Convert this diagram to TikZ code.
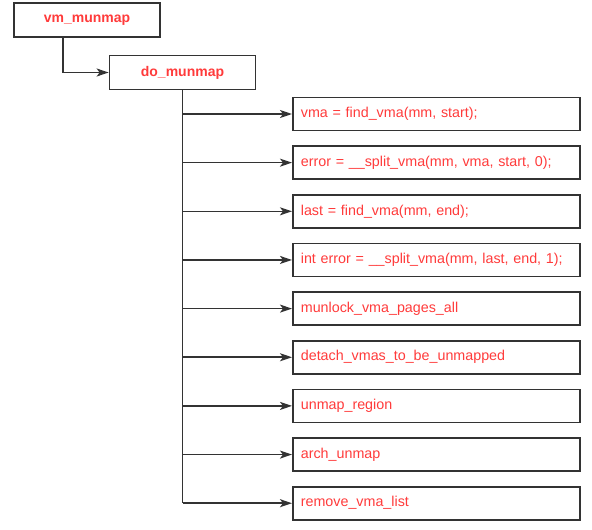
\documentclass[tikz,border=0pt]{standalone}
\usepackage{fontspec}
\setmainfont{Liberation Sans}
\usepackage{xcolor}
\usetikzlibrary{arrows.meta,positioning}

\definecolor{callred}{HTML}{FF3B3B}
\definecolor{edgegray}{HTML}{333333}

\begin{document}
\begin{tikzpicture}[x=1pt, y=-1pt,
  every node/.style={font=\fontsize{14.3}{16}\selectfont},
  fnbox/.style={rectangle, draw=edgegray, line width=1.7pt, fill=white,
               minimum width=146pt, minimum height=34pt, inner sep=0pt,
               text=callred, font=\fontsize{14}{16}\selectfont\bfseries},
  callbox/.style={rectangle, draw=edgegray, line width=1.7pt, fill=white,
               text width=271pt, inner xsep=8pt, inner ysep=0pt,
               minimum height=33pt, align=left, anchor=west, text=callred},
  link/.style={-{Stealth[length=12pt,width=8pt,inset=3pt]}, line width=1.6pt,
               edgegray},
]
\useasboundingbox (0,0) rectangle (592,530);

%% -- callers ------------------------------------------------------------
\node[fnbox] (vm) at (87,20) {vm\_munmap};
\node[fnbox] (do) at (182.5,72.5) {do\_munmap};

\draw[link] ([xshift=-24pt]vm.south) |- (do.west);

%% -- calls made by do_munmap --------------------------------------------
\foreach \i/\t in {1/{vma = find\_vma(mm, start);},
                   2/{error = \_\_split\_vma(mm, vma, start, 0);},
                   3/{last = find\_vma(mm, end);},
                   4/{int error = \_\_split\_vma(mm, last, end, 1);},
                   5/{munlock\_vma\_pages\_all},
                   6/{detach\_vmas\_to\_be\_unmapped},
                   7/{unmap\_region},
                   8/{arch\_unmap},
                   9/{remove\_vma\_list}} {
  \node[callbox] (c\i) at (292, {114+48.65*(\i-1)}) {\t};
  \draw[link] (do.south |- c\i.west) -- (c\i.west);
}

% trunk line
\draw[line width=1.6pt, edgegray] (do.south) -- (do.south |- c9.west);

\end{tikzpicture}
\end{document}
